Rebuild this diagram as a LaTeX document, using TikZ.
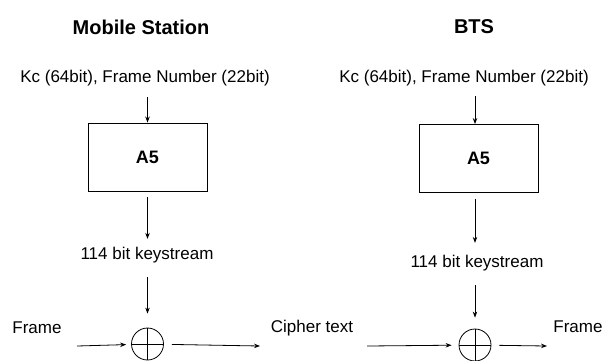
\documentclass[tikz,border=0pt]{standalone}
\usepackage{fontspec}
\setmainfont{Liberation Sans}
\usepackage{tikz}
\usetikzlibrary{arrows.meta, positioning, calc}
\tikzset{
    sidehead/.style={font=\fontsize{20}{24}\selectfont\bfseries, inner sep=2pt},
    lbl/.style={font=\fontsize{17}{20}\selectfont, inner sep=2pt},
    algbox/.style={draw, line width=0.9pt, minimum width=119pt, minimum height=68pt, inner sep=0pt, font=\fontsize{18}{20}\selectfont\bfseries},
    xorgate/.style={circle, draw, line width=0.8pt, minimum size=32pt, inner sep=0pt,
        path picture={\draw[line width=0.8pt] (path picture bounding box.north) -- (path picture bounding box.south)
            (path picture bounding box.west) -- (path picture bounding box.east);}},
    arr/.style={-{Stealth[length=6pt,width=4.5pt]}, line width=0.8pt}
}

\begin{document}
\begin{tikzpicture}[x=1pt, y=-1pt]
    \useasboundingbox (0,0) rectangle (602,360);

    % mobile station side
    \node[sidehead] (msHead) at (141,27) {Mobile Station};
    \node[lbl] (msKey) at (145,78) {Kc (64bit), Frame Number (22bit)};
    \node[algbox] (msA5) at (147.5,157) {A5};
    \node[lbl] (msStream) at (147,255) {114 bit keystream};
    \node[xorgate] (msXor) at (147.5,344) {};
    \node[lbl] (msFrame) at (37,328) {Frame};
    \node[lbl] (cipher) at (312,328) {Cipher text};
    \coordinate (msIn) at (77,346);
    \coordinate (msOut) at (260,346);

    % BTS side
    \node[sidehead] (btsHead) at (474,27) {BTS};
    \node[lbl] (btsKey) at (464,78) {Kc (64bit), Frame Number (22bit)};
    \node[algbox] (btsA5) at (478.5,158.5) {A5};
    \node[lbl] (btsStream) at (477,263) {114 bit keystream};
    \node[xorgate] (btsXor) at (475,345) {};
    \node[lbl] (btsFrame) at (578,327) {Frame};
    \coordinate (btsIn) at (367,346);
    \coordinate (btsOut) at (547,346);

    \draw[arr, shorten <=9pt] (msA5.north |- msKey.south) -- (msA5.north);
    \draw[arr, shorten <=6pt, shorten >=6pt] (msA5.south) -- (msA5.south |- msStream.north);
    \draw[arr, shorten <=12pt, shorten >=14pt] (msXor.north |- msStream.south) -- (msXor.north);
    \draw[arr, shorten >=5pt] (msIn) -- (msXor);
    \draw[arr, shorten <=8pt] (msXor) -- (msOut);

    \draw[arr, shorten <=8pt] (btsXor.north |- btsKey.south) -- (btsXor.north |- btsA5.north);
    \draw[arr, shorten <=6pt, shorten >=10pt] (btsXor.north |- btsA5.south) -- (btsXor.north |- btsStream.north);
    \draw[arr, shorten <=12pt, shorten >=11pt] (btsXor.north |- btsStream.south) -- (btsXor.north);
    \draw[arr, shorten >=7pt] (btsIn) -- (btsXor);
    \draw[arr, shorten <=8pt] (btsXor) -- (btsOut);
\end{tikzpicture}
\end{document}
